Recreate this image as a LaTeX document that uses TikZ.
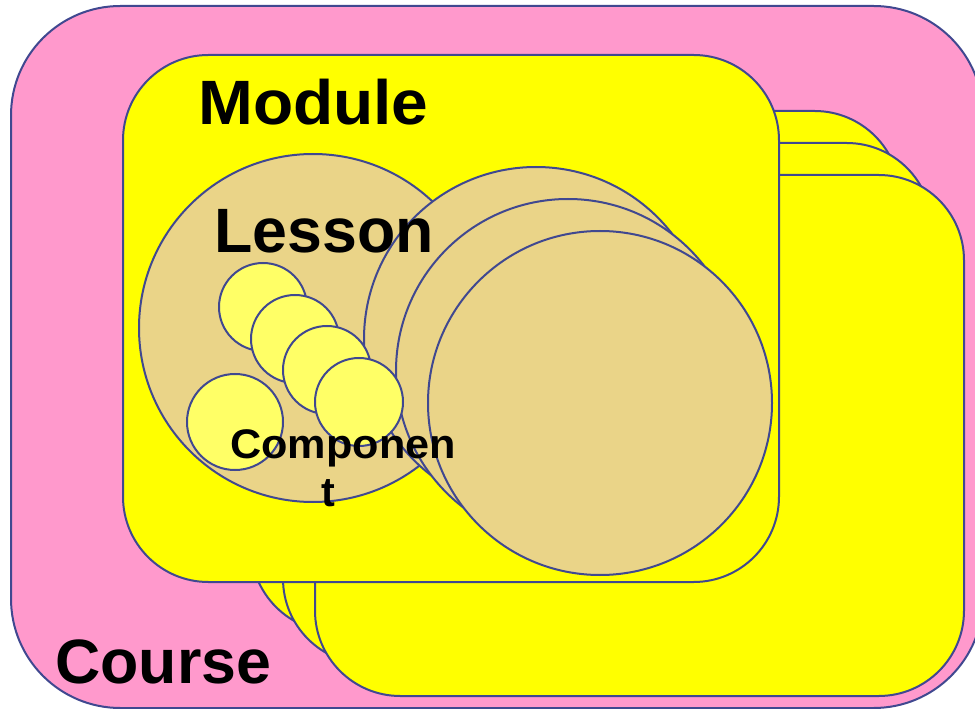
\documentclass[tikz,border=0pt]{standalone}
\usepackage{fontspec}
\setmainfont{Liberation Sans}
\definecolor{pinkfill}{RGB}{255,153,204}
\definecolor{yel}{RGB}{255,255,0}
\definecolor{tan}{RGB}{234,212,136}
\definecolor{lyel}{RGB}{255,255,102}
\definecolor{edge}{RGB}{64,72,144}
\tikzset{
  outl/.style={draw=edge, line width=1.5pt},
  coursebox/.style={outl, fill=pinkfill, rounded corners=82pt},
  modbox/.style={outl, fill=yel, rounded corners=64pt},
  lessoncirc/.style={outl, fill=tan},
  compcirc/.style={outl, fill=lyel},
  title/.style={font=\bfseries\fontsize{47}{50}\selectfont, text=black, inner sep=0pt},
  comptext/.style={font=\bfseries\fontsize{31}{35}\selectfont, text=black, inner sep=0pt}
}
\begin{document}
\begin{tikzpicture}[x=0.75pt,y=-0.75pt]
\useasboundingbox (0,0) rectangle (975,709);
% course
\draw[coursebox] (11,6) rectangle (983,708);
% stacked modules behind
\draw[modbox] (251,111) rectangle (900,632);
\draw[modbox] (283,143) rectangle (932,664);
\draw[modbox] (315,175) rectangle (964,696);
% module
\draw[modbox] (123,55) rectangle (779,582);
% lesson
\draw[lessoncirc] (313,328) circle[radius=174];
% stacked lessons
\draw[lessoncirc] (536,339) circle[radius=172];
\draw[lessoncirc] (568,371) circle[radius=172];
\draw[lessoncirc] (600,403) circle[radius=172];
% components
\draw[compcirc] (235,422) circle[radius=48];
\draw[compcirc] (263,307) circle[radius=44];
\draw[compcirc] (295,339) circle[radius=44];
\draw[compcirc] (327,370) circle[radius=44];
\draw[compcirc] (359,402) circle[radius=44];
% texts
\node[title, anchor=base west] (module) at (198,125) {\scalebox{1.05}[1]{Module}};
\node[title, anchor=base west] (lesson) at (214,253) {Lesson};
\node[title, anchor=base west] (course) at (55,683) {Course};
\node[comptext, anchor=base west] (comp1) at (230,458) {\scalebox{1.045}[1]{Componen}};
\node[comptext, anchor=base] (comp2) at (328,506) {t};
\end{tikzpicture}
\end{document}
